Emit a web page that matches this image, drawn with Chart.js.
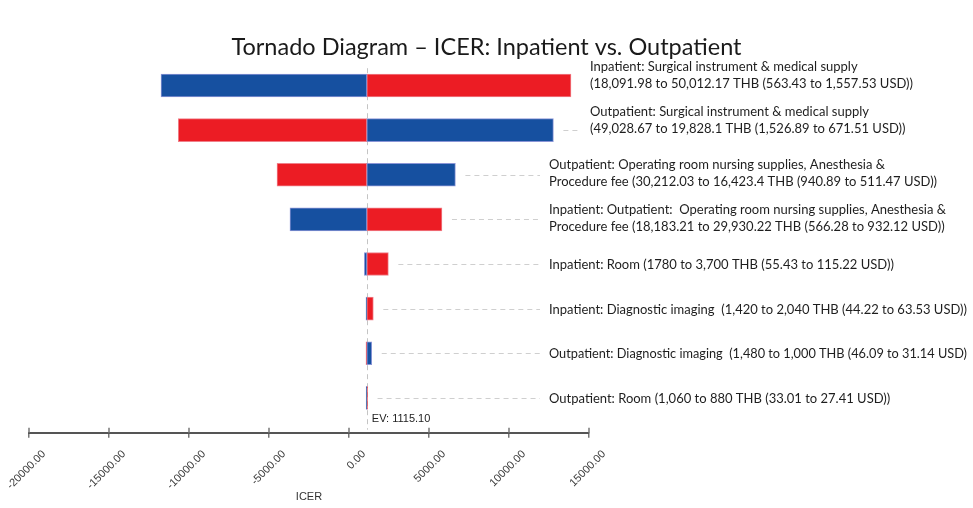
<!DOCTYPE html>
<html>
<head>
<meta charset="utf-8">
<script src="https://cdn.jsdelivr.net/npm/chart.js@4"></script>
<style>
  html, body { margin: 0; padding: 0; background: #fff; }
  #wrap { width: 973px; height: 508px; }
</style>
</head>
<body>
<div id="wrap"><canvas id="tornado"></canvas></div>
<script>
const chartTitle = 'Tornado Diagram \u2013 ICER: Inpatient vs. Outpatient';
const evValue = 1115.10;
const rowLabels = [
    ['Inpatient: Surgical instrument & medical supply', '(18,091.98 to 50,012.17 THB (563.43 to 1,557.53 USD))'],
    ['Outpatient: Surgical instrument & medical supply', '(49,028.67 to 19,828.1 THB (1,526.89 to 671.51 USD))'],
    ['Outpatient: Operating room nursing supplies, Anesthesia &', 'Procedure fee (30,212.03 to 16,423.4 THB (940.89 to 511.47 USD))'],
    ['Inpatient: Outpatient:  Operating room nursing supplies, Anesthesia &', 'Procedure fee (18,183.21 to 29,930.22 THB (566.28 to 932.12 USD))'],
    ['Inpatient: Room (1780 to 3,700 THB (55.43 to 115.22 USD))'],
    ['Inpatient: Diagnostic imaging  (1,420 to 2,040 THB (44.22 to 63.53 USD))'],
    ['Outpatient: Diagnostic imaging  (1,480 to 1,000 THB (46.09 to 31.14 USD)'],
    ['Outpatient: Room (1,060 to 880 THB (33.01 to 27.41 USD))']
];
const blueEnds = [-11750, 12775, 6650, -3690, 960, 1060, 1420, 1070];
const redEnds = [13875, -10670, -4500, 5810, 2460, 1520, 1060, 1160];
const xMin = -20000;
const xMax = 15000;
const xStep = 5000;

const labelFont = "13px Lato, 'Open Sans', sans-serif";

// Titre, lignes pointillées, libellés à droite et marque EV
const tornadoDecor = {
    id: 'tornadoDecor',
    beforeDatasetsDraw(chart) {
        const { ctx, chartArea, scales: { x } } = chart;
        const ex = Math.round(x.getPixelForValue(evValue)) + 0.5;
        ctx.save();
        ctx.fillStyle = '#1a1a1a';
        ctx.font = "23.5px Lato, 'Open Sans', sans-serif";
        ctx.textAlign = 'center';
        ctx.textBaseline = 'middle';
        ctx.fillText(chartTitle, chart.width / 2, 47);

        ctx.strokeStyle = '#c4c4c4';
        ctx.lineWidth = 1;
        ctx.setLineDash([5, 4]);
        ctx.beginPath();
        ctx.moveTo(ex, chartArea.top + 5);
        ctx.lineTo(ex, chartArea.bottom - 3);
        ctx.stroke();
        ctx.restore();
    },
    afterDatasetsDraw(chart) {
        const { ctx, chartArea, scales: { x, y } } = chart;
        const base = chartArea.right - 40;
        const ends = rowLabels.map((_, i) => Math.max(x.getPixelForValue(blueEnds[i]), x.getPixelForValue(redEnds[i])));
        const shifted = ends.map(e => e + 19 > base);
        const wideX = Math.max(...ends.filter((e, i) => shifted[i]).map(e => e + 19), base);

        ctx.save();
        rowLabels.forEach((lines, i) => {
            const cy = y.getPixelForValue(i);
            const lx = shifted[i] ? wideX : base;
            const maxW = chart.width - lx - 6;

            // pointillés vers le libellé
            const from = ends[i] + 10;
            const to = lx - 9;
            if (to - from > 4) {
                ctx.strokeStyle = '#cfcfcf';
                ctx.lineWidth = 1;
                ctx.setLineDash([5, 4]);
                ctx.beginPath();
                ctx.moveTo(from, Math.round(cy) + 0.5);
                ctx.lineTo(to, Math.round(cy) + 0.5);
                ctx.stroke();
            }

            ctx.setLineDash([]);
            ctx.fillStyle = '#1e1e1e';
            ctx.font = labelFont;
            ctx.textAlign = 'left';
            ctx.textBaseline = 'middle';
            if (lines.length === 2) {
                const y1 = shifted[i] ? cy - 18.5 : cy - 10;
                ctx.fillText(lines[0], lx, y1, maxW);
                ctx.fillText(lines[1], lx, y1 + 17, maxW);
            } else {
                ctx.fillText(lines[0], lx, cy + 1, maxW);
            }
        });

        // EV
        ctx.fillStyle = '#222';
        ctx.font = "11px 'Liberation Sans', Arial, sans-serif";
        ctx.textAlign = 'left';
        ctx.textBaseline = 'middle';
        ctx.fillText('EV: ' + evValue.toFixed(2), x.getPixelForValue(evValue) + 5, chartArea.bottom - 14);

        // graduations au-dessus de l'axe
        ctx.strokeStyle = '#777';
        ctx.lineWidth = 1.5;
        x.ticks.forEach(t => {
            const px = x.getPixelForValue(t.value);
            ctx.beginPath();
            ctx.moveTo(px, chartArea.bottom - 5);
            ctx.lineTo(px, chartArea.bottom);
            ctx.stroke();
        });
        ctx.restore();
    }
};

const rows = rowLabels.map((_, i) => i);

new Chart(document.getElementById('tornado'), {
    type: 'bar',
    data: {
        datasets: [
            {
                label: 'Low',
                data: rows.map(i => ({ x: [evValue, blueEnds[i]], y: i })),
                backgroundColor: '#1650a0',
                borderColor: '#8a95d6',
                borderWidth: 1,
                borderSkipped: false,
                grouped: false,
                barThickness: 23
            },
            {
                label: 'High',
                data: rows.map(i => ({ x: [evValue, redEnds[i]], y: i })),
                backgroundColor: '#ec1c24',
                borderColor: '#f0808a',
                borderWidth: 1,
                borderSkipped: false,
                grouped: false,
                barThickness: 23
            }
        ]
    },
    options: {
        indexAxis: 'y',
        responsive: true,
        maintainAspectRatio: false,
        animation: false,
        layout: { padding: { left: 29, right: 384, top: 63.2, bottom: 0 } },
        plugins: {
            legend: { display: false },
            tooltip: { enabled: false },
            title: { display: false }
        },
        scales: {
            x: {
                type: 'linear',
                min: xMin,
                max: xMax,
                ticks: {
                    stepSize: xStep,
                    autoSkip: false,
                    minRotation: 45,
                    maxRotation: 45,
                    labelOffset: 15,
                    padding: 10,
                    color: '#3a3a3a',
                    font: { family: "'Liberation Sans', Arial, sans-serif", size: 11 },
                    callback: v => v.toFixed(2)
                },
                grid: { drawOnChartArea: false, tickLength: 5, color: '#777', lineWidth: 1.5 },
                border: { display: true, color: '#555', width: 2 },
                title: {
                    display: true,
                    text: 'ICER',
                    color: '#333',
                    font: { family: "'Liberation Sans', Arial, sans-serif", size: 11 },
                    padding: { top: 0, bottom: 4 }
                },
                afterFit(scale) {
                    scale.paddingLeft = 0;
                    scale.paddingRight = 0;
                    scale.height = 75.3;
                }
            },
            y: {
                type: 'linear',
                reverse: true,
                offset: false,
                min: -0.5,
                max: 7.78,
                display: false
            }
        }
    },
    plugins: [tornadoDecor]
});
</script>
</body>
</html>
